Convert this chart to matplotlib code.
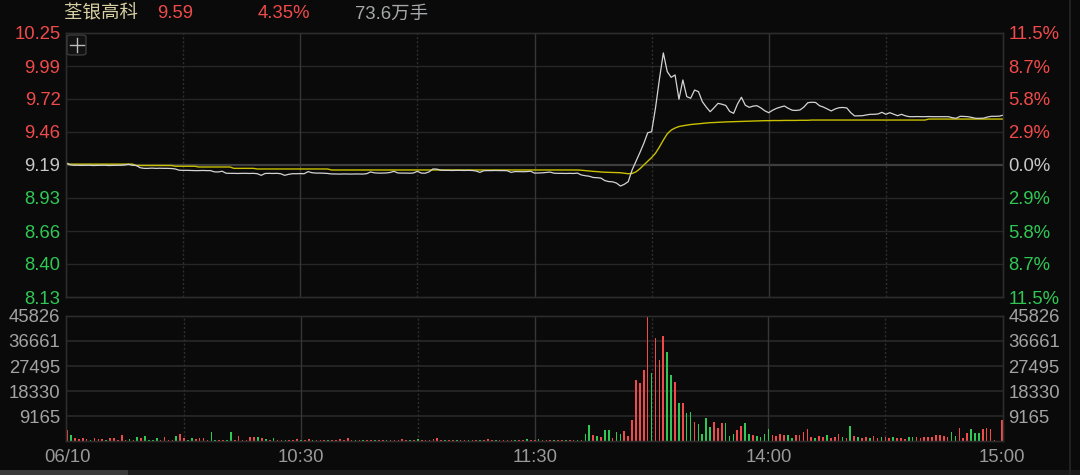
import matplotlib
matplotlib.use("Agg")
import matplotlib.pyplot as plt
from matplotlib.patches import FancyBboxPatch, Rectangle
from matplotlib.lines import Line2D
import numpy as np

W, H = 1080, 475

# header
stock_name = "荃银高科"
last_price = "9.59"
change_pct = "4.35%"
total_volume = "73.6万手"

# axes labels
price_ticks = ["10.25", "9.99", "9.72", "9.46", "9.19", "8.93", "8.66", "8.40", "8.13"]
pct_ticks = ["11.5%", "8.7%", "5.8%", "2.9%", "0.0%", "2.9%", "5.8%", "8.7%", "11.5%"]
vol_ticks = [45826, 36661, 27495, 18330, 9165]
time_labels = ["06/10", "10:30", "11:30", "14:00", "15:00"]
time_label_min = [0, 60, 120, 180, 240]

# one value per minute, 09:30-11:30 then 13:01-15:00
price = [
    9.21, 9.192, 9.188, 9.188, 9.187, 9.188, 9.188, 9.186, 9.187, 9.188,
    9.188, 9.186, 9.187, 9.188, 9.188, 9.19, 9.196, 9.188, 9.186, 9.168,
    9.163, 9.163, 9.165, 9.163, 9.164, 9.163, 9.163, 9.162, 9.158, 9.148,
    9.147, 9.147, 9.146, 9.145, 9.145, 9.146, 9.145, 9.145, 9.135, 9.134,
    9.14, 9.124, 9.123, 9.123, 9.122, 9.123, 9.123, 9.122, 9.123, 9.12,
    9.107, 9.122, 9.123, 9.122, 9.123, 9.12, 9.107, 9.115, 9.12, 9.12,
    9.121, 9.12, 9.137, 9.128, 9.125, 9.125, 9.124, 9.122, 9.118, 9.118,
    9.117, 9.118, 9.118, 9.117, 9.118, 9.118, 9.117, 9.12, 9.134, 9.127,
    9.125, 9.125, 9.126, 9.13, 9.139, 9.126, 9.125, 9.125, 9.124, 9.126,
    9.139, 9.125, 9.124, 9.135, 9.158, 9.157, 9.148, 9.147, 9.147, 9.146,
    9.147, 9.147, 9.146, 9.147, 9.146, 9.142, 9.131, 9.144, 9.145, 9.145,
    9.146, 9.145, 9.145, 9.144, 9.131, 9.137, 9.137, 9.136, 9.137, 9.14,
    9.125, 9.126, 9.127, 9.13, 9.133, 9.124, 9.123, 9.123, 9.122, 9.123,
    9.122, 9.125, 9.11, 9.104, 9.1, 9.09, 9.088, 9.085, 9.065, 9.057,
    9.055, 9.045, 9.021, 9.035, 9.056, 9.15, 9.22, 9.29, 9.364, 9.449,
    9.457, 9.65, 9.88, 10.09, 9.94, 9.894, 9.913, 9.718, 9.873, 9.739,
    9.726, 9.792, 9.779, 9.698, 9.655, 9.618, 9.65, 9.685, 9.678, 9.668,
    9.62, 9.605, 9.68, 9.734, 9.67, 9.653, 9.663, 9.666, 9.648, 9.625,
    9.61, 9.63, 9.645, 9.655, 9.664, 9.645, 9.63, 9.628, 9.632, 9.655,
    9.69, 9.694, 9.692, 9.666, 9.655, 9.64, 9.624, 9.64, 9.65, 9.652,
    9.648, 9.61, 9.584, 9.585, 9.586, 9.592, 9.597, 9.597, 9.6, 9.613,
    9.597, 9.61, 9.598, 9.586, 9.597, 9.585, 9.578, 9.578, 9.579, 9.578,
    9.578, 9.579, 9.578, 9.578, 9.578, 9.578, 9.578, 9.57, 9.565, 9.581,
    9.58, 9.578, 9.572, 9.565, 9.565, 9.566, 9.575, 9.581, 9.581, 9.582,
    9.59,
]

avg_price = (
    [9.197] * 18 + [9.186] * 10 + [9.18] * 6 + [9.174] * 9 + [9.163] * 6
    + [9.158] * 19 + [9.15] * 64
    + [9.148, 9.145, 9.142, 9.139, 9.137, 9.134, 9.132, 9.131, 9.13, 9.129,
       9.128, 9.124, 9.12, 9.122, 9.135, 9.16, 9.19, 9.22, 9.25, 9.285,
       9.335, 9.39, 9.44, 9.47, 9.487, 9.499, 9.505, 9.51, 9.515, 9.518,
       9.521, 9.524, 9.527, 9.53, 9.531, 9.533, 9.534, 9.536, 9.537, 9.538,
       9.539, 9.54, 9.541, 9.542, 9.543, 9.544, 9.545, 9.546, 9.546, 9.547,
       9.547, 9.547, 9.548, 9.548, 9.548, 9.548, 9.549, 9.549, 9.549]
    + [9.551] * 30 + [9.559] * 20
)

volume = [
    4210, 2240, 920, 660, 920, 660, 260, 920, 660, 660,
    260, 920, 920, 260, 2240, 260, 660, 400, 1320, 920,
    1840, 400, 400, 920, 400, 1320, 400, 400, 1840, 2630,
    920, 400, 920, 660, 920, 920, 400, 3420, 400, 400,
    400, 400, 3160, 400, 1840, 400, 400, 1320, 1580, 1580,
    920, 660, 400, 920, 400, 260, 400, 260, 400, 660,
    260, 400, 660, 260, 400, 400, 260, 400, 260, 400,
    660, 400, 980, 400, 260, 400, 260, 400, 400, 260,
    400, 260, 400, 400, 260, 400, 660, 400, 260, 400,
    660, 400, 260, 400, 660, 920, 400, 260, 400, 400,
    260, 400, 260, 400, 400, 260, 400, 400, 660, 260,
    400, 260, 400, 400, 260, 400, 260, 400, 660, 400,
    400, 660, 400, 260, 400, 260, 400, 260, 400, 260,
    400, 260, 400, 2440, 5990, 2320, 1710, 1470, 4150, 3910,
    1220, 3300, 2440, 3540, 1710, 7570, 22240, 21380, 26150, 45826,
    24930, 37880, 29570, 38370, 32630, 24070, 21510, 13810, 14050, 10390,
    10510, 6840, 6110, 2690, 8310, 5010, 6840, 4640, 6480, 6480,
    1830, 2440, 3910, 5380, 6480, 2690, 2080, 1710, 1590, 2690,
    4520, 2320, 1830, 2690, 2320, 2320, 1100, 2320, 2080, 3180,
    4520, 1590, 980, 1830, 1340, 2080, 980, 1590, 2440, 1340,
    980, 5500, 1830, 1340, 980, 1590, 1100, 1830, 980, 1340,
    1590, 980, 1340, 1100, 980, 610, 1590, 1340, 1590, 1100,
    1340, 1590, 1590, 2080, 2200, 1830, 1470, 3300, 1830, 4640,
    980, 2810, 4270, 3060, 2810, 4520, 4770, 4270, 490, 0,
    7700,
]

# r = up bar, g = down bar
bar_dir = (
    "rgrrrrgrrr" "grrrrrgrgr" "ggggrrrrgr" "rggrrrrggr" "rggrrrrrrg"
    "rgrgrrgrrr" "grrgrrrgrr" "rrrrgrgrrg" "rrgrrrrrgr" "grrrrrrgrr"
    "grrgrrgrrr" "grrrrgrrgr" "rgrrrgrrgr" "rgrggrgrgg" "rggrrrrrrr"
    "grrrggrgrg" "grggggrrrg" "ggrrggrggg" "grrrrggrrr" "rrgrrgrrrg"
    "rgrgrrgrrg" "rrgrrrggrr" "rrrrrrrggr" "rrgggrrrrr" "r"
)

BG = "#0a0a0a"
GRID = "#262626"
VLINE = "#363636"
RED = "#f04a4a"
GREEN = "#30c855"
WHITE = "#c8c8c8"
LABEL_GRAY = "#a3a3a3"

plt.rcParams["font.family"] = ["Liberation Sans", "Noto Sans CJK SC"]


def fig_rect(x0, y0, x1, y1):
    return [x0 / W, 1 - y1 / H, (x1 - x0) / W, (y1 - y0) / H]


fig = plt.figure(figsize=(W / 100, H / 100), dpi=100, facecolor=BG)

minutes = np.arange(len(price))

# ---- price panel
ax_p = fig.add_axes(fig_rect(66, 33, 1003, 297))
ax_p.set_facecolor(BG)
ax_p.set_xlim(0, 240)
ax_p.set_ylim(8.13, 10.25)
yt = np.linspace(8.13, 10.25, len(price_ticks))
ax_p.set_yticks(yt, labels=price_ticks[::-1])
ax_p.set_xticks([])
ax_p.tick_params(axis="y", length=0, pad=4, labelsize=13.3)
for i, lab in enumerate(ax_p.get_yticklabels()):
    lab.set_color(GREEN if i < 4 else (WHITE if i == 4 else RED))

ax_r = ax_p.twinx()
ax_r.set_ylim(8.13, 10.25)
ax_r.set_yticks(yt, labels=pct_ticks[::-1])
ax_r.tick_params(axis="y", length=0, pad=4, labelsize=13.3)
for i, lab in enumerate(ax_r.get_yticklabels()):
    lab.set_color(GREEN if i < 4 else (WHITE if i == 4 else RED))

for y in yt[1:-1]:
    if abs(y - 9.19) < 1e-6:
        ax_p.axhline(y, color="#3e3e3e", lw=1.6, zorder=1)
    else:
        ax_p.axhline(y, color=GRID, lw=1, zorder=1)

for m in (60, 120, 180):
    ax_p.axvline(m, color=VLINE, lw=1, zorder=1)
for m in (30, 90, 150, 210):
    ax_p.axvline(m, color="#2e2e2e", lw=1, ls=(0, (1.5, 1.5)), zorder=1)

ax_p.plot(minutes, avg_price, color="#c8c000", lw=1.0, zorder=3)
ax_p.plot(minutes, price, color="#d4d4d4", lw=0.9, zorder=4)

# ---- volume panel
ax_v = fig.add_axes(fig_rect(66, 316, 1003, 441))
ax_v.set_facecolor(BG)
ax_v.set_xlim(-0.3, 240.2)
ax_v.set_ylim(0, vol_ticks[0])
ax_v.set_yticks(vol_ticks, labels=[str(v) for v in vol_ticks])
ax_v.tick_params(axis="y", length=0, pad=4, labelsize=13.3, labelcolor=LABEL_GRAY)
ax_v.set_xticks(time_label_min, labels=time_labels)
ax_v.tick_params(axis="x", length=0, pad=6, labelsize=13.3, labelcolor="#9a9a9a")

ax_v2 = ax_v.twinx()
ax_v2.set_ylim(0, vol_ticks[0])
ax_v2.set_yticks(vol_ticks, labels=[str(v) for v in vol_ticks])
ax_v2.tick_params(axis="y", length=0, pad=4, labelsize=13.3, labelcolor=LABEL_GRAY)

for v in vol_ticks[1:]:
    ax_v.axhline(v, color=GRID, lw=1.3, zorder=1)
for m in (60, 120, 180):
    ax_v.axvline(m, color=VLINE, lw=1, zorder=1)
for m in (30, 90, 150, 210):
    ax_v.axvline(m, color="#2e2e2e", lw=1, ls=(0, (1.5, 1.5)), zorder=1)

bar_colors = [RED if c == "r" else GREEN for c in bar_dir]
ax_v.bar(minutes, volume, width=0.42, color=bar_colors, linewidth=0, zorder=3)

for ax in (ax_p, ax_r, ax_v, ax_v2):
    for sp in ax.spines.values():
        sp.set_color("#2c2c2c")
        sp.set_linewidth(1)

# ---- header
fig.text(64 / W, 1 - 14 / H, stock_name, color="#d8d0a2", fontsize=13.3, va="center")
fig.text(157 / W, 1 - 14 / H, last_price, color=RED, fontsize=13.3, va="center")
fig.text(258 / W, 1 - 14 / H, change_pct, color=RED, fontsize=13.3, va="center")
fig.text(355 / W, 1 - 14 / H, total_volume, color="#a6a8aa", fontsize=13.3, va="center")

# crosshair toggle box
box = FancyBboxPatch((67 / W, 1 - 55 / H), 19 / W, 20 / H,
                     boxstyle="round,pad=0,rounding_size=0.004",
                     transform=fig.transFigure, facecolor="#121212",
                     edgecolor="#3a3a3a", lw=1, zorder=5)
fig.add_artist(box)
fig.add_artist(Line2D([70 / W, 84 / W], [1 - 45 / H, 1 - 45 / H],
                      transform=fig.transFigure, color="#bdbdbd", lw=1, zorder=6))
fig.add_artist(Line2D([77 / W, 77 / W], [1 - 38 / H, 1 - 52 / H],
                      transform=fig.transFigure, color="#bdbdbd", lw=1, zorder=6))

# right border and bottom scroll bar
fig.add_artist(Line2D([1069.5 / W, 1069.5 / W], [0, 1],
                      transform=fig.transFigure, color="#262626", lw=1.2))
fig.add_artist(Rectangle((0, 0), 1, 5 / H, transform=fig.transFigure,
                         facecolor="#1c1c1c", lw=0))
fig.add_artist(Rectangle((0, 0), 128 / W, 5 / H, transform=fig.transFigure,
                         facecolor="#3a3a3a", lw=0))

fig.savefig("out.png", dpi=100, facecolor=BG)
